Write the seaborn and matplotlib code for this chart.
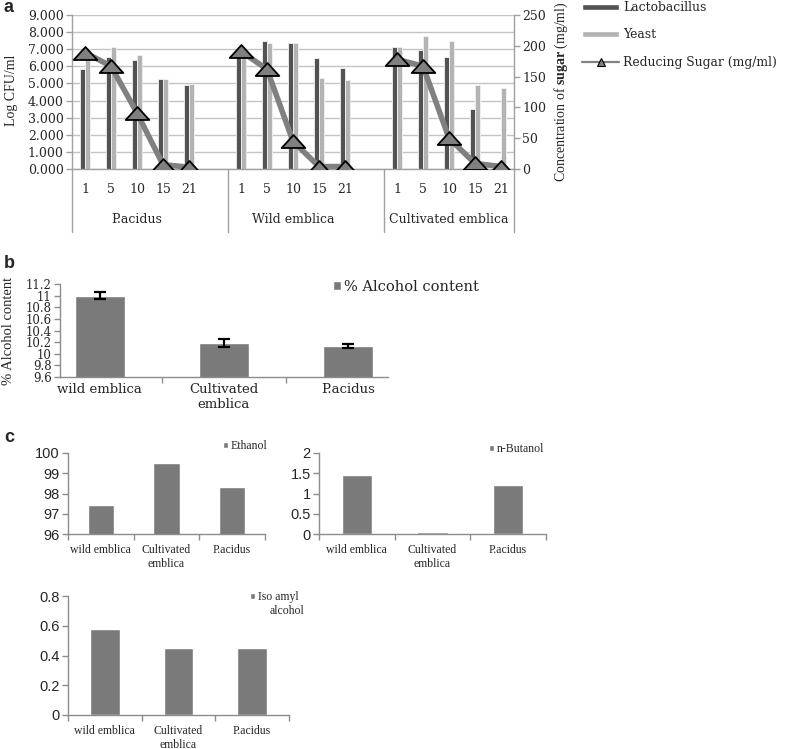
import numpy as np
import pandas as pd
import seaborn as sns
import matplotlib.pyplot as plt
from matplotlib.lines import Line2D
from matplotlib.patches import Patch
from matplotlib.path import Path
from matplotlib.ticker import FixedLocator, FuncFormatter
from matplotlib.transforms import blended_transform_factory

sns.set_theme(style='white')
plt.rcParams['font.family'] = ['DejaVu Serif']
plt.rcParams['mathtext.fontset'] = 'custom'
plt.rcParams['mathtext.rm'] = 'Liberation Serif'
plt.rcParams['mathtext.bf'] = 'Liberation Serif:bold'

# ---- panel a: microbial counts and reducing sugar over fermentation days
days = ['1', '5', '10', '15', '21']
fruits_a = ['P.acidus', 'Wild emblica', 'Cultivated emblica']
lacto = [[5.82, 6.56, 6.35, 5.27, 4.88],
         [6.85, 7.48, 7.34, 6.50, 5.88],
         [7.13, 6.95, 6.54, 3.48, 0.0]]
yeast = [[7.00, 7.13, 6.64, 5.27, 4.96],
         [6.90, 7.38, 7.34, 5.29, 5.23],
         [7.13, 7.77, 7.48, 4.88, 4.75]]
sugar = [[189, 167, 91, 7, 3],
         [191, 162, 45, 4, 4],
         [178, 167, 50, 9, 4]]

# ---- panel b: % alcohol content
fruits_b = ['wild emblica', 'Cultivated\nemblica', 'P.acidus']
alcohol = [11.0, 10.19, 10.14]
alcohol_err = [0.06, 0.07, 0.035]

# ---- panel c: alcohol composition
ethanol = [97.43, 99.52, 98.32]
butanol = [1.45, 0.06, 1.22]
isoamyl = [0.58, 0.45, 0.45]

DARK, LIGHT, MID = '#525252', '#b3b3b3', '#7a7a7a'
W, H = 787, 749


def box(l, t, r, b):
    # pixel box -> figure fraction rect
    return [l / W, 1 - b / H, (r - l) / W, (b - t) / H]


fig = plt.figure(figsize=(W / 100, H / 100), dpi=100)

# 1. Panel a
slots, rows, sugar_rows = [], [], []
for g, lac, yst, sug in zip(fruits_a, lacto, yeast, sugar):
    for d, l, y, s in zip(days, lac, yst, sug):
        key = g + '|' + d
        slots.append(key)
        rows.append((key, 'Lactobacillus', l))
        rows.append((key, 'Yeast', y))
        sugar_rows.append((key, g, s))
    slots.append(g + '|')  # empty spacer slot after each fruit
slots = slots[:-1]
df_cfu = pd.DataFrame(rows, columns=['slot', 'organism', 'cfu'])
df_sug = pd.DataFrame(sugar_rows, columns=['slot', 'fruit', 'sugar'])

ax_a = fig.add_axes(box(72, 15, 514, 169))
sns.barplot(data=df_cfu, x='slot', y='cfu', hue='organism', order=slots,
            palette=[DARK, LIGHT], saturation=1, width=0.42, gap=0.12,
            edgecolor='#f2f2f2', linewidth=0.6, legend=False, ax=ax_a)
ax2 = ax_a.twinx()
sns.pointplot(data=df_sug, x='slot', y='sugar', hue='fruit', order=slots,
              palette=['#808080'] * 3, markers='^', errorbar=None, legend=False,
              ax=ax2, linewidth=4, markersize=17, markeredgewidth=1.3)
tri = Path([(0, 0.55), (-1, -0.55), (1, -0.55), (0, 0.55)],
           [Path.MOVETO, Path.LINETO, Path.LINETO, Path.CLOSEPOLY])
for ln in ax2.lines:
    ln.set_marker(tri)
    ln.set_markeredgecolor('black')
    ln.set_markerfacecolor('#808080')

ax_a.set_ylim(0, 9)
ax_a.set_yticks(np.arange(0, 10))
ax_a.yaxis.set_major_formatter(FuncFormatter(lambda v, p: f'{v:.3f}'))
ax2.set_ylim(0, 250)
ax2.set_yticks(np.arange(0, 251, 50))
ax_a.set_xlim(-0.5, len(slots) - 0.5)
ax_a.set_xticks(range(len(slots)))
ax_a.set_xticklabels([s.split('|')[1] for s in slots])
ax_a.yaxis.grid(True, color='#c4c4c4', lw=1)
ax_a.set_axisbelow(True)
ax_a.set_xlabel('')
ax_a.set_ylabel('')
ax2.set_xlabel('')
ax2.set_ylabel('')
ax_a.tick_params(axis='x', length=0, pad=10, labelsize=9)
ax_a.tick_params(axis='y', length=4, width=1, color='#a0a0a0', pad=2, labelsize=9, left=True)
ax2.tick_params(axis='y', length=4, width=1, color='#a0a0a0', pad=2, labelsize=9, right=True)
for a in (ax_a, ax2):
    for sp in a.spines.values():
        sp.set_visible(False)
ax_a.spines['left'].set_visible(True)
ax_a.spines['bottom'].set_visible(True)
ax2.spines['right'].set_visible(True)
for sp in (ax_a.spines['left'], ax_a.spines['bottom'], ax2.spines['right']):
    sp.set_color('#a0a0a0')
    sp.set_linewidth(1)

# multi-level category axis: separators and fruit names
trans = blended_transform_factory(ax_a.transData, ax_a.transAxes)
bounds = [-0.5] + [i + 0.5 for i, s in enumerate(slots) if s.endswith('|')] + [len(slots) - 0.5]
for b in bounds:
    ax_a.plot([b, b], [0, -0.41], color='#a0a0a0', lw=1, transform=trans, clip_on=False)
for g in fruits_a:
    idx = [i for i, s in enumerate(slots) if s.startswith(g + '|') and not s.endswith('|')]
    ax_a.text((idx[0] + idx[-1]) / 2, -0.33, g, transform=trans, ha='center', va='center',
              fontsize=9)

fig.text(12 / W, 1 - 90 / H, 'Log CFU/ml', rotation=90, ha='center', va='center',
         family='Liberation Serif', fontsize=10)
fig.text(561 / W, 1 - 92 / H, r'Concentration of $\mathbf{sugar}$ (mg/ml)', rotation=90,
         ha='center', va='center', family='Liberation Serif', fontsize=10)

handles_a = [Patch(facecolor=DARK), Patch(facecolor=LIGHT),
             Line2D([], [], color='#808080', lw=1.6, marker='^', markersize=6,
                    markerfacecolor='#808080', markeredgecolor='black', markeredgewidth=0.8)]
fig.legend(handles_a, ['Lactobacillus', 'Yeast', 'Reducing Sugar (mg/ml)'],
           loc='upper left', bbox_to_anchor=(581 / W, 1 - 0 / H), frameon=False,
           prop={'family': 'DejaVu Serif', 'size': 8.9}, handlelength=3.0, handleheight=0.35,
           handletextpad=0.3, labelspacing=1.15, borderaxespad=0, borderpad=0.1)

# 2. Panel b
ax_b = fig.add_axes(box(60, 284, 388, 377))
df_b = pd.DataFrame({'fruit': fruits_b, 'alcohol': alcohol})
sns.barplot(data=df_b, x='fruit', y='alcohol', color=MID, saturation=1, width=0.4,
            errorbar=None, ax=ax_b)
ax_b.errorbar(np.arange(len(fruits_b)), alcohol, yerr=alcohol_err, fmt='none',
              ecolor='black', elinewidth=1.6, capsize=4, capthick=1.6)
ax_b.set_ylim(9.6, 11.2)
ax_b.set_yticks(np.round(np.arange(9.6, 11.21, 0.2), 1))
ax_b.yaxis.set_major_formatter(FuncFormatter(lambda v, p: f'{v:g}'))
ax_b.set_xlabel('')
ax_b.set_ylabel('')


def style_small(ax, xfont, xsize, yfont, ysize, xpad):
    for side in ('top', 'right'):
        ax.spines[side].set_visible(False)
    for side in ('left', 'bottom'):
        ax.spines[side].set_color('#8c8c8c')
        ax.spines[side].set_linewidth(1)
    n = len(ax.get_xticks())
    ax.xaxis.set_minor_locator(FixedLocator(np.arange(n + 1) - 0.5))
    ax.tick_params(axis='x', which='major', length=0, pad=xpad)
    ax.tick_params(axis='x', which='minor', length=4, width=1, color='#8c8c8c', bottom=True)
    ax.tick_params(axis='y', length=4, width=1, color='#8c8c8c', pad=2, left=True)
    for t in ax.get_xticklabels():
        t.set_family(xfont)
        t.set_fontsize(xsize)
    for t in ax.get_yticklabels():
        t.set_family(yfont)
        t.set_fontsize(ysize)


style_small(ax_b, 'DejaVu Serif', 9.5, 'DejaVu Serif', 8.5, 4)
fig.text(9 / W, 1 - 331 / H, '% Alcohol content', rotation=90, ha='center', va='center',
         family='Liberation Serif', fontsize=10.5)
fig.legend([Patch(facecolor=MID)], ['% Alcohol content'], loc='center left',
           bbox_to_anchor=(333 / W, 1 - 287 / H), frameon=False,
           prop={'family': 'DejaVu Serif', 'size': 10.5}, handlelength=0.55, handleheight=0.55,
           handletextpad=0.2, borderaxespad=0, borderpad=0)

# 3. Panel c
fruits_c = ['wild emblica', 'Cultivated\nemblica', 'P.acidus']
panels_c = [
    (box(68, 453, 265, 534), ethanol, (96, 100), [96, 97, 98, 99, 100], 'Ethanol', (223, 446)),
    (box(319, 453, 546, 534), butanol, (0, 2), [0, 0.5, 1, 1.5, 2], 'n-Butanol', (489, 449)),
    (box(68, 596, 289, 715), isoamyl, (0, 0.8), [0, 0.2, 0.4, 0.6, 0.8], 'Iso amyl', (250, 597)),
]
for rect, vals, lim, ticks, name, (lx, ly) in panels_c:
    ax = fig.add_axes(rect)
    df_c = pd.DataFrame({'fruit': fruits_c, 'value': vals})
    sns.barplot(data=df_c, x='fruit', y='value', color=MID, saturation=1, width=0.4,
                errorbar=None, ax=ax)
    ax.set_ylim(*lim)
    ax.set_yticks(ticks)
    ax.yaxis.set_major_formatter(FuncFormatter(lambda v, p: f'{v:g}'))
    ax.set_xlabel('')
    ax.set_ylabel('')
    style_small(ax, 'Liberation Serif', 8.5, 'Liberation Sans', 10.5, 7)
    fig.legend([Patch(facecolor=MID)], [name], loc='center left',
               bbox_to_anchor=(lx / W, 1 - ly / H), frameon=False,
               prop={'family': 'Liberation Serif', 'size': 8.5}, handlelength=0.45,
               handleheight=0.45, handletextpad=0.2, borderaxespad=0, borderpad=0)
fig.text(287 / W, 1 - 611 / H, 'alcohol', ha='center', va='center',
         family='Liberation Serif', fontsize=8.5)

# panel letters
for letter, y in (('a', 8), ('b', 264), ('c', 438)):
    fig.text(9 / W, 1 - y / H, letter, ha='center', va='center', fontsize=13,
             fontweight='bold', family='Liberation Sans')

fig.savefig('out.png', dpi=100)
